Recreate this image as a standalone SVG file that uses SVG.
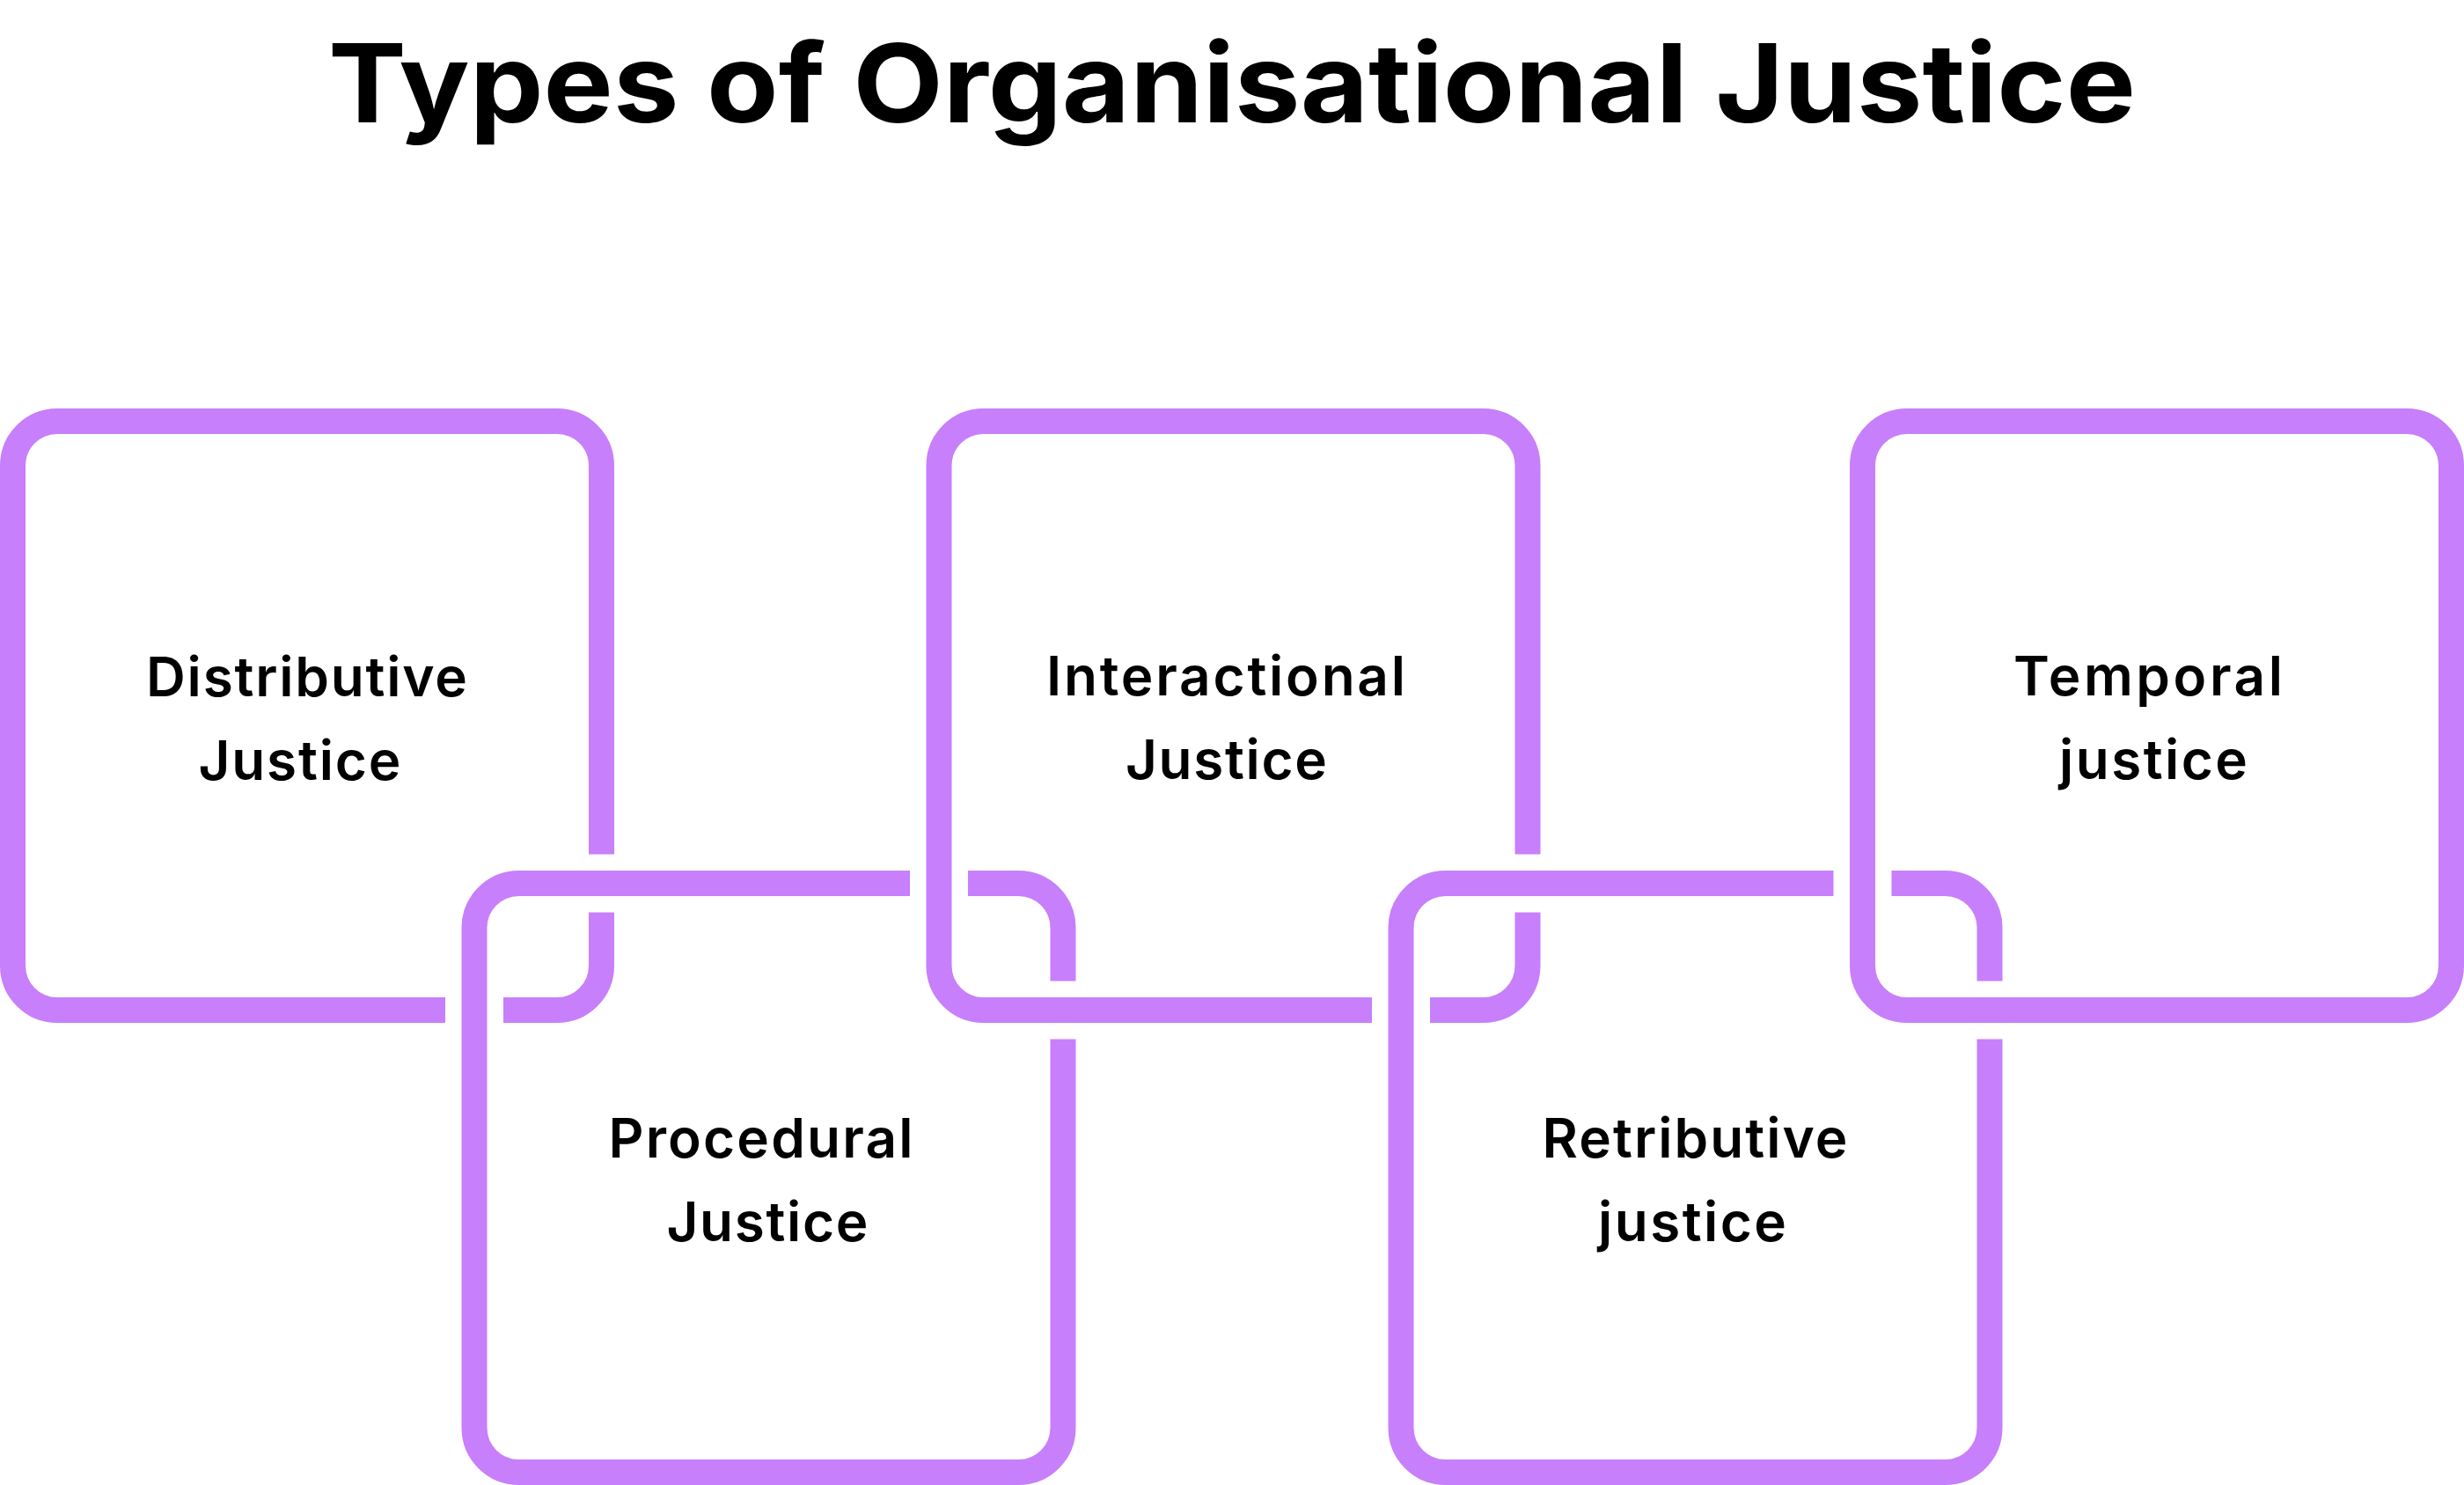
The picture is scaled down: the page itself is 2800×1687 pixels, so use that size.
<svg xmlns="http://www.w3.org/2000/svg" width="2800" height="1687" viewBox="0 0 2800 1687">
<style>
.ring{fill:none;stroke:#C77FFB;stroke-width:29;stroke-linecap:butt;stroke-linejoin:round}
.lbl{font-family:Inter,"Noto Sans","Liberation Sans",sans-serif;font-weight:600;font-size:62px;fill:#000;text-anchor:middle}
.title{font-family:Inter,"Noto Sans","Liberation Sans",sans-serif;font-weight:700;font-size:124px;fill:#000;text-anchor:middle}
</style>
<rect x="0" y="0" width="2800" height="1687" fill="#fff"/>
<text class="title" x="1400" y="139" textLength="2054" lengthAdjust="spacingAndGlyphs">Types of Organisational Justice</text>

<g id="connectors"></g>

<g id="node-distributive">
<path class="ring" d="M506 1147.5 H65 A50.5 50.5 0 0 1 14.5 1097 V529 A50.5 50.5 0 0 1 65 478.5 H633 A50.5 50.5 0 0 1 683.5 529 V970.5"/>
<path class="ring" d="M683.5 1036.5 V1097 A50.5 50.5 0 0 1 633 1147.5 H572"/>
<text class="lbl" x="348.5" y="790.7" textLength="365">Distributive</text>
<text class="lbl" x="340.5" y="886.4" textLength="230">Justice</text>
</g>

<g id="node-procedural">
<path class="ring" d="M1100 1003.5 H1157.5 A50.5 50.5 0 0 1 1208 1054 V1114.5"/>
<path class="ring" d="M1208 1180.5 V1622 A50.5 50.5 0 0 1 1157.5 1672.5 H589.5 A50.5 50.5 0 0 1 539 1622 V1054 A50.5 50.5 0 0 1 589.5 1003.5 H1034"/>
<text class="lbl" x="864.5" y="1314.5" textLength="346">Procedural</text>
<text class="lbl" x="872" y="1410" textLength="229">Justice</text>
</g>

<g id="node-interactional">
<path class="ring" d="M1559 1147.5 H1117.5 A50.5 50.5 0 0 1 1067 1097 V529 A50.5 50.5 0 0 1 1117.5 478.5 H1685.5 A50.5 50.5 0 0 1 1736 529 V970.5"/>
<path class="ring" d="M1736 1036.5 V1097 A50.5 50.5 0 0 1 1685.5 1147.5 H1625"/>
<text class="lbl" x="1393" y="790" textLength="408">Interactional</text>
<text class="lbl" x="1393.4" y="885" textLength="229">Justice</text>
</g>

<g id="node-retributive">
<path class="ring" d="M2149.5 1003.5 H2210.5 A50.5 50.5 0 0 1 2261 1054 V1114.5"/>
<path class="ring" d="M2261 1180.5 V1622 A50.5 50.5 0 0 1 2210.5 1672.5 H1642.5 A50.5 50.5 0 0 1 1592 1622 V1054 A50.5 50.5 0 0 1 1642.5 1003.5 H2083.5"/>
<text class="lbl" x="1926" y="1315" textLength="347">Retributive</text>
<text class="lbl" x="1923" y="1409.7" textLength="214">justice</text>
</g>

<g id="node-temporal">
<rect class="ring" x="2116.5" y="478.5" width="669" height="669" rx="50.5" ry="50.5"/>
<text class="lbl" x="2441" y="790" textLength="306">Temporal</text>
<text class="lbl" x="2447" y="885" textLength="214">justice</text>
</g>
</svg>
